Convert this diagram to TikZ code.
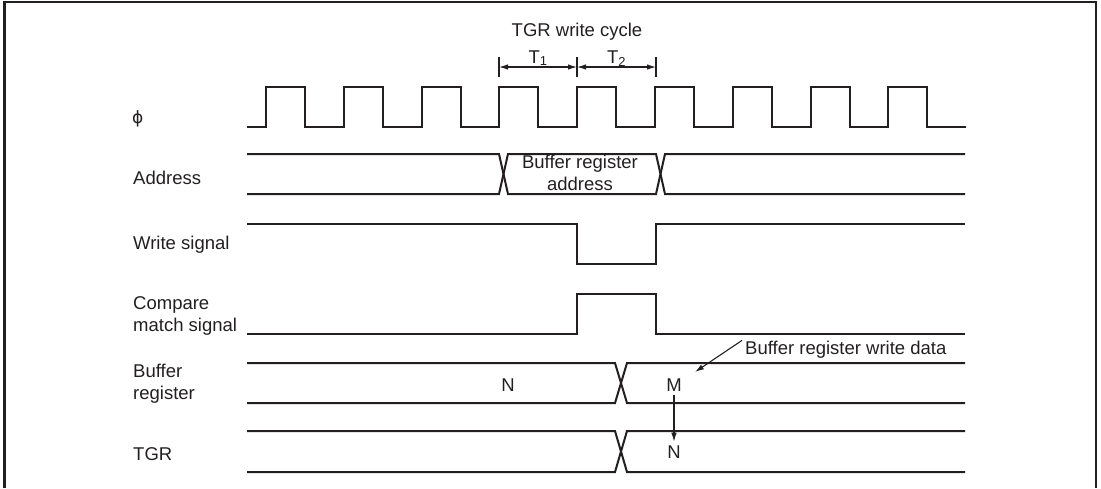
\documentclass[tikz,border=0pt]{standalone}
\usepackage{fontspec}
\setmainfont{Liberation Sans}
\newfontfamily\phifont{DejaVu Sans}
\usepackage{tikz}
\usetikzlibrary{arrows.meta, calc}
\definecolor{ink}{RGB}{35,31,32}

\begin{document}
\begin{tikzpicture}[
  x=1pt, y=-1pt,
  font=\fontsize{18.5}{22}\selectfont,
  color=ink,
  wave/.style={line width=2pt, line join=miter},
  thinline/.style={line width=1.1pt},
  siglabel/.style={anchor=base west, align=left, inner sep=0pt},
  datatext/.style={anchor=base, align=center},
  >={Latex[length=9pt, width=5.5pt]}
]
\useasboundingbox (0,0) rectangle (1101,488);
% --- frame, open at the bottom ---
\draw[line width=2.6pt] (4.5,488) -- (4.5,2) -- (1096,2) -- (1096,488);

% --- write cycle: T1 / T2 ---
\coordinate (t0) at (499,67);
\coordinate (t1) at (577,67);
\coordinate (t2) at (656,67);
\node[datatext, inner sep=0pt] (cycle) at (577,36) {TGR write cycle};
\foreach \c in {t0,t1,t2}
  \draw[thinline] ([yshift=10pt]\c) -- ([yshift=-10pt]\c);
\draw[thinline, <->] (t0) -- node[anchor=base, inner sep=0pt, yshift=4pt] (tone) {T\textsubscript{1}} (t1);
\draw[thinline, <->] (t1) -- node[anchor=base, inner sep=0pt, yshift=4pt] (ttwo) {T\textsubscript{2}} (t2);

% --- signal names (base = last line) ---
\node[siglabel, font={\phifont\fontsize{17}{19}\selectfont}] (lphi) at (132,123) {ϕ};
\node[siglabel] (laddr) at (133,184) {Address};
\node[siglabel] (lwrite) at (133,249) {Write signal};
\node[siglabel] (lcmp) at (133,331) {Compare\\match signal};
\node[siglabel] (lbuf) at (133,399) {Buffer\\register};
\node[siglabel] (ltgr) at (133,460) {TGR};

% clock
\draw[wave] (247,127) -- (266,127)
  \foreach \i in {1,...,9} { -- ++(0,-40) -- ++(38.9,0) -- ++(0,40) -- ++(38.9,0) };

% address bus
\draw[wave] (247,154) -- (499,154) -- (508,194) -- (656,194) -- (665,154) -- (965,154);
\draw[wave] (247,194) -- (499,194) -- (508,154) -- (656,154) -- (665,194) -- (965,194);
\node[datatext, inner sep=0pt] (aval) at (580,190) {Buffer register\\address};

% write signal and compare match
\draw[wave] (247,224) -- (577,224) -- (577,264) -- (656,264) -- (656,224) -- (965,224);
\draw[wave] (247,334) -- (577,334) -- (577,294) -- (656,294) -- (656,334) -- (965,334);

% buffer register and TGR
\draw[wave] (247,363) -- (615,363) -- (627,403) -- (965,403);
\draw[wave] (247,403) -- (615,403) -- (627,363) -- (965,363);
\draw[wave] (247,431) -- (615,431) -- (627,472) -- (965,472);
\draw[wave] (247,472) -- (615,472) -- (627,431) -- (965,431);
\node[datatext] (bufold) at (508,391) {N};
\node[datatext] (bufnew) at (674,391) {M};
\node[datatext] (tgrnew) at (674,458) {N};
\draw[thinline, ->] (bufnew) -- (tgrnew);

% write data pointer
\node[siglabel] (wdata) at (745,354) {Buffer register write data};
\coordinate (wtip) at (695,372);
\draw[thinline, ->] ([xshift=-3pt]wdata.north west) -- (wtip);
\end{tikzpicture}
\end{document}
